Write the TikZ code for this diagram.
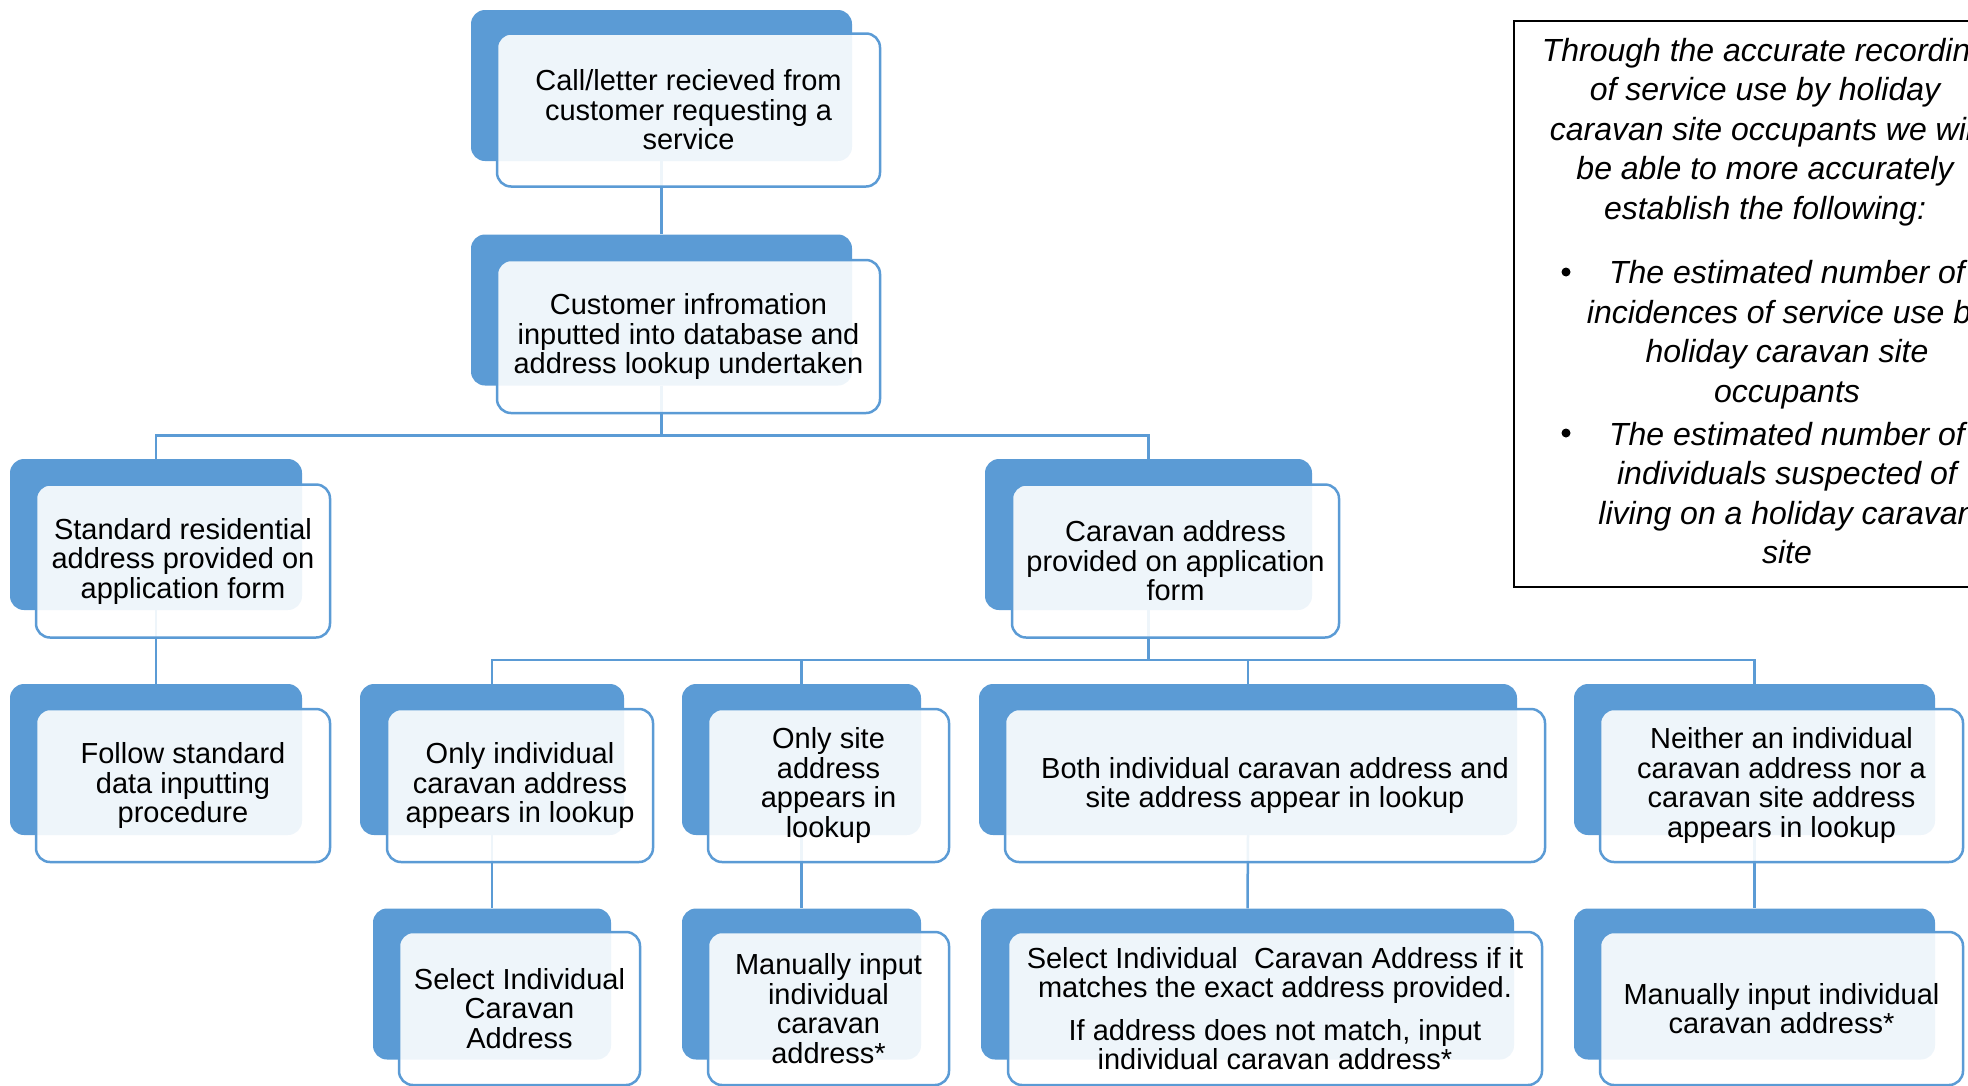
\documentclass[tikz,border=0pt]{standalone}
\usepackage{fontspec}
\setmainfont{Liberation Sans}
\usepackage{tikz}

\definecolor{boxblue}{HTML}{5B9BD5}

\begin{document}
\begin{tikzpicture}[x = 1pt, y = -1pt,
  backbox/.style={rectangle, rounded corners=14pt, fill=boxblue, inner sep=0pt, minimum height=151pt},
  frontbox/.style={rectangle, rounded corners=14pt, draw=boxblue, line width=2.5pt, fill=white, fill opacity=0.9, text opacity=1, align=center, inner sep=0pt, minimum height=153pt, font=\fontsize{29}{29.5}\selectfont},
  link/.style={draw=boxblue, line width=2.5pt},
  notetext/.style={align=center, font=\itshape\fontsize{32}{39.5}\selectfont},
  notedot/.style={circle, fill=black, inner sep=0pt, minimum size=9pt}]

  \useasboundingbox (0, 0) rectangle (1968, 1085);
  \clip (0, 0) rectangle (1968, 1085);

  % back boxes
  \node[backbox, minimum width=381pt] (callB)   at ( 661.5,  85.5) {};
  \node[backbox, minimum width=381pt] (inputB)  at ( 661.5, 310)   {};
  \node[backbox, minimum width=292pt] (stdB)    at ( 156,   534.5) {};
  \node[backbox, minimum width=327pt] (cvnB)    at (1148.5, 534.5) {};
  \node[backbox, minimum width=292pt] (followB) at ( 156,   759.5) {};
  \node[backbox, minimum width=264pt] (indB)    at ( 492,   759.5) {};
  \node[backbox, minimum width=239pt] (siteB)   at ( 801.5, 759.5) {};
  \node[backbox, minimum width=538pt] (bothB)   at (1248,   759.5) {};
  \node[backbox, minimum width=361pt] (noneB)   at (1754.5, 759.5) {};
  \node[backbox, minimum width=238pt] (selB)    at ( 492,   984)   {};
  \node[backbox, minimum width=239pt] (manB)    at ( 801.5, 984)   {};
  \node[backbox, minimum width=533pt] (matchB)  at (1247.5, 984)   {};
  \node[backbox, minimum width=361pt] (manindB) at (1754.5, 984)   {};

  % connectors
  \coordinate (fork1) at ( 661.5, 435.5);
  \coordinate (fork2) at (1148.5, 660);

  \draw[link] (callB.south) -- (inputB.north);
  \draw[link] (inputB.south) -- (fork1) -| (stdB.north);
  \draw[link] (fork1) -| (cvnB.north);
  \draw[link] (stdB.south) -- (followB.north);

  \draw[link] (cvnB.south) -- (fork2) -| (indB.north);
  \draw[link] (fork2) -| (siteB.north);
  \draw[link] (fork2) -| (bothB.north);
  \draw[link] (fork2) -| (noneB.north);

  \draw[link] (indB.south) -- (selB.north);
  \draw[link] (siteB.south) -- (manB.north);
  \draw[link] (bothB.south) -- (matchB.north);
  \draw[link] (noneB.south) -- (manindB.north);

  % front boxes
  \node[frontbox, minimum width=383pt] (callF) at ( 688.5, 110) {Call/letter recieved from\\customer requesting a\\service};
  \node[frontbox, minimum width=383pt] (inputF) at ( 688.5, 336.5) {Customer infromation\\inputted into database and\\address lookup undertaken};
  \node[frontbox, minimum width=294pt] (stdF) at ( 183, 561) {Standard residential\\address provided on\\application form};
  \node[frontbox, minimum width=327pt] (cvnF) at (1175.5, 561) {Caravan address\\provided on application\\form};

  \node[frontbox, minimum width=294pt] (followF) at ( 183, 785.5) {Follow standard\\data inputting\\procedure};
  \node[frontbox, minimum width=266pt] (indF) at ( 520, 785.5) {Only individual\\caravan address\\appears in lookup};
  \node[frontbox, minimum width=241pt] (siteF) at ( 828.5, 785.5) {Only site\\address\\appears in\\lookup};
  \node[frontbox, minimum width=540pt] (bothF) at (1275, 785.5) {Both individual caravan address and\\site address appear in lookup};
  \node[frontbox, minimum width=363pt] (noneF) at (1781.5, 785.5) {Neither an individual\\caravan address nor a\\caravan site address\\appears in lookup};

  \node[frontbox, minimum width=241pt] (selF) at ( 519.5, 1008.5) {Select Individual\\Caravan\\Address};
  \node[frontbox, minimum width=241pt] (manF) at ( 828.5, 1008.5) {Manually input\\individual\\caravan\\address*};
  \node[frontbox, minimum width=534pt] (matchF) at (1275, 1008.5) {Select Individual~ Caravan Address if it\\matches the exact address provided.\\[13pt]If address does not match, input\\individual caravan address*};
  \node[frontbox, minimum width=363pt] (manindF) at (1781.5, 1008.5) {Manually input individual\\caravan address*};

  % note on the right
  \node[draw=black, line width=1.5pt, inner sep=0pt, minimum width=502pt, minimum height=566pt] (note) at (1765, 304) {};
  \node[notetext] (noteHead) at (1765, 132) {Through the accurate recording\\of service use by holiday\\caravan site occupants we will\\be able to more accurately\\establish the following:};
  \node[notetext] (itemA) at (1787, 334.5) {The estimated number of\\incidences of service use by\\holiday caravan site\\occupants};
  \node[notetext] (itemB) at (1787, 493) {The estimated number of\\individuals suspected of\\living on a holiday caravan\\site};
  \node[notedot] (dotA) at (1566, 272) {};
  \node[notedot] (dotB) at (1566, 433) {};

\end{tikzpicture}
\end{document}
